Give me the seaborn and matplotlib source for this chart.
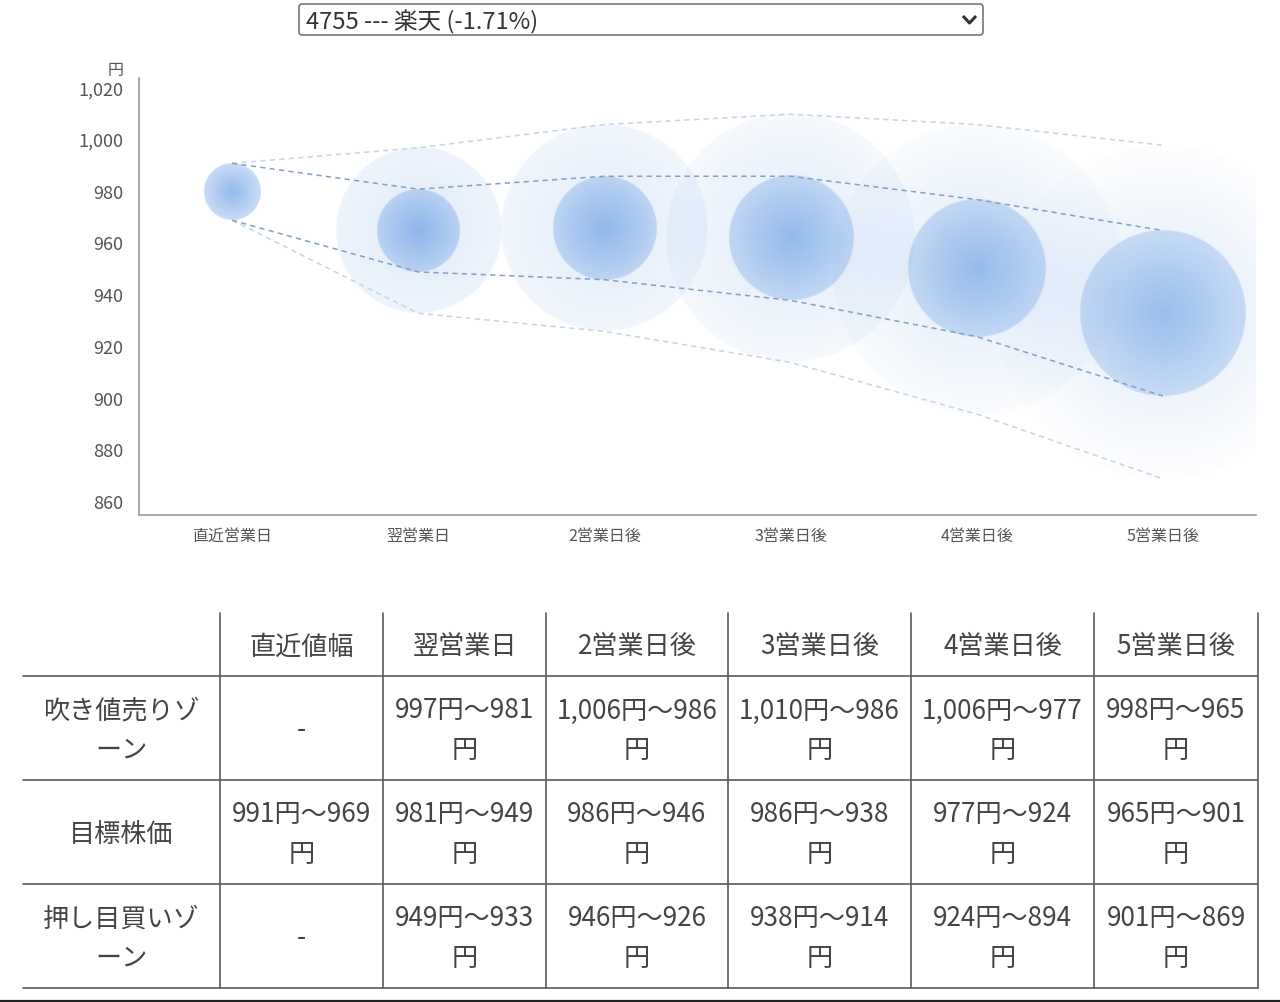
import numpy as np
import matplotlib
matplotlib.use("Agg")
import matplotlib.pyplot as plt
import seaborn as sns
from matplotlib.colors import to_rgb
from matplotlib.patches import FancyBboxPatch
from matplotlib.ticker import FuncFormatter

# ---------------- data ----------------
days = ["直近営業日", "翌営業日", "2営業日後", "3営業日後", "4営業日後", "5営業日後"]
table_head = ["直近値幅", "翌営業日", "2営業日後", "3営業日後", "4営業日後", "5営業日後"]
row_labels = ["吹き値売りゾ\nーン", "目標株価", "押し目買いゾ\nーン"]
sell_hi = [None, 997, 1006, 1010, 1006, 998]
sell_lo = [None, 981, 986, 986, 977, 965]
tgt_hi = [991, 981, 986, 986, 977, 965]
tgt_lo = [969, 949, 946, 938, 924, 901]
buy_hi = [None, 949, 946, 938, 924, 901]
buy_lo = [None, 933, 926, 914, 894, 869]
y_ticks = [860, 880, 900, 920, 940, 960, 980, 1000, 1020]
title_text = "4755 --- 楽天 (-1.71%)"
unit = "円"

# ---------------- style ----------------
sns.set_style("white")
plt.rcParams["font.family"] = ["Noto Sans CJK JP", "DejaVu Sans"]

W, H = 1280, 1002
fig = plt.figure(figsize=(W / 100, H / 100), dpi=100)
fig.patch.set_facecolor("white")

# page overlay (pixel coordinates) for dropdown + table
pg = fig.add_axes([0, 0, 1, 1])
pg.set_xlim(0, W)
pg.set_ylim(H, 0)
pg.axis("off")

# ---------------- chart ----------------
ax = fig.add_axes([139 / W, 1 - 515 / H, (1256 - 139) / W, (515 - 78) / H])
ax.set_facecolor("none")
XL, YL = (-0.5, 5.5), (855, 1024)
ax.set_xlim(*XL)
ax.set_ylim(*YL)

ppy = abs(ax.transData.transform((0, 1))[1] - ax.transData.transform((0, 0))[1])
ppx = abs(ax.transData.transform((1, 0))[0] - ax.transData.transform((0, 0))[0])


def disc(x, hi, lo, alpha_fn, color, z, res=400):
    """radial-gradient disc spanning hi..lo on the y scale; alpha_fn(r_px, R_px)"""
    mid = (hi + lo) / 2
    ry = (hi - lo) / 2
    R = ry * ppy
    rx = R / ppx
    g = np.linspace(-1, 1, res)
    u, v = np.meshgrid(g, g)
    rho = np.sqrt(u ** 2 + v ** 2)
    alpha = alpha_fn(np.clip(rho, 0, 1) * R, R)
    edge = np.clip((1 - rho) * R + 0.5, 0, 1)
    img = np.zeros((res, res, 4))
    img[..., :3] = to_rgb(color)
    img[..., 3] = alpha * edge
    ax.imshow(img, extent=[x - rx, x + rx, mid - ry, mid + ry], origin="lower",
              aspect="auto", interpolation="bilinear", zorder=z)


def outer_alpha(r, R):
    return np.maximum(0.20 - 0.00115 * r, 0.015)


def inner_alpha(r, R):
    a_c = 0.72 - 0.0025 * R
    a_e = a_c * 0.52
    return a_c + (a_e - a_c) * (r / R)


base = "#5a96e1"
for i in range(len(days)):
    if sell_hi[i] is not None:
        disc(i, sell_hi[i], buy_lo[i], outer_alpha, base, 1)
for i in range(len(days)):
    disc(i, tgt_hi[i], tgt_lo[i], inner_alpha, base, 2)

xs = np.arange(len(days))
zone_top = [tgt_hi[0]] + sell_hi[1:]
zone_bot = [tgt_lo[0]] + buy_lo[1:]
dash = (0, (3.4, 2.8))
sns.lineplot(x=xs, y=zone_top, ax=ax, color="#c6d4e4", lw=1.1, linestyle=dash, zorder=4)
sns.lineplot(x=xs, y=zone_bot, ax=ax, color="#c6d4e4", lw=1.1, linestyle=dash, zorder=4)
sns.lineplot(x=xs, y=tgt_hi, ax=ax, color="#839fc4", lw=1.1, linestyle=dash, zorder=5)
sns.lineplot(x=xs, y=tgt_lo, ax=ax, color="#839fc4", lw=1.1, linestyle=dash, zorder=5)

ax.set_xlim(*XL)
ax.set_ylim(*YL)
ax.set_xlabel("")
ax.set_ylabel("")
ax.set_xticks(xs)
ax.set_xticklabels(days)
ax.set_yticks(y_ticks)
ax.yaxis.set_major_formatter(FuncFormatter(lambda v, p: f"{int(v):,}"))
ax.set_yticks([YL[0], YL[1]], minor=True)
ax.set_xticks([XL[0], XL[1]], minor=True)
ax.tick_params(which="major", length=0)
ax.tick_params(axis="y", which="major", pad=11, labelsize=13, labelcolor="#555555")
ax.tick_params(axis="x", which="major", pad=9, labelsize=11.5, labelcolor="#555555")
ax.tick_params(which="minor", length=7.2, width=1.1, color="#999999")
for s in ["top", "right"]:
    ax.spines[s].set_visible(False)
for s in ["left", "bottom"]:
    ax.spines[s].set_color("#999999")
    ax.spines[s].set_linewidth(1.2)

fig.text(116 / W, 1 - 70 / H, unit, ha="center", va="center", fontsize=11.5, color="#555555")

# ---------------- dropdown ----------------
pg.add_patch(FancyBboxPatch((299, 4), 684, 31, boxstyle="round,pad=0,rounding_size=3",
                            fc="white", ec="#777777", lw=1.2))
pg.text(306, 22, title_text, ha="left", va="center", fontsize=17, color="#333333")
pg.plot([963, 969.5, 976], [16, 23, 16], color="#333333", lw=2.2, solid_capstyle="butt")

# ---------------- table ----------------
cols = [23, 220, 383, 546, 728, 911, 1094, 1258]
rows = [613, 676, 780, 884, 988]
lc = "#5a5a5a"
for r in rows[1:]:
    pg.plot([cols[0], cols[-1]], [r, r], color=lc, lw=1.2)
for c in cols[1:]:
    pg.plot([c, c], [rows[0], rows[-1]], color=lc, lw=1.2)

tc = "#444444"
fs = 18.8
dy = 2.5


def cell_text(cx, cy, s):
    lines = s.split("\n")
    if len(lines) == 1:
        pg.text(cx, cy + dy, s, ha="center", va="center", fontsize=fs, color=tc)
    else:
        pg.text(cx, cy - 19.5 + dy, lines[0], ha="center", va="center", fontsize=fs, color=tc)
        pg.text(cx, cy + 19.5 + dy, lines[1], ha="center", va="center", fontsize=fs, color=tc)


def rng(hi, lo):
    if hi is None:
        return "-"
    return f"{hi:,}円〜{lo:,}\n円"


ccx = [(cols[i] + cols[i + 1]) / 2 for i in range(len(cols) - 1)]
rcy = [(rows[i] + rows[i + 1]) / 2 for i in range(len(rows) - 1)]
for j, h in enumerate(table_head):
    cell_text(ccx[j + 1], rcy[0], h)
for k, lab in enumerate(row_labels):
    cell_text(ccx[0], rcy[k + 1], lab)
for j in range(len(days)):
    cell_text(ccx[j + 1], rcy[1], rng(sell_hi[j], sell_lo[j]))
    cell_text(ccx[j + 1], rcy[2], rng(tgt_hi[j], tgt_lo[j]))
    cell_text(ccx[j + 1], rcy[3], rng(buy_hi[j], buy_lo[j]))

pg.plot([0, W], [1000.8, 1000.8], color="#222222", lw=1.6)

fig.savefig("out.png", dpi=100, facecolor="white")
